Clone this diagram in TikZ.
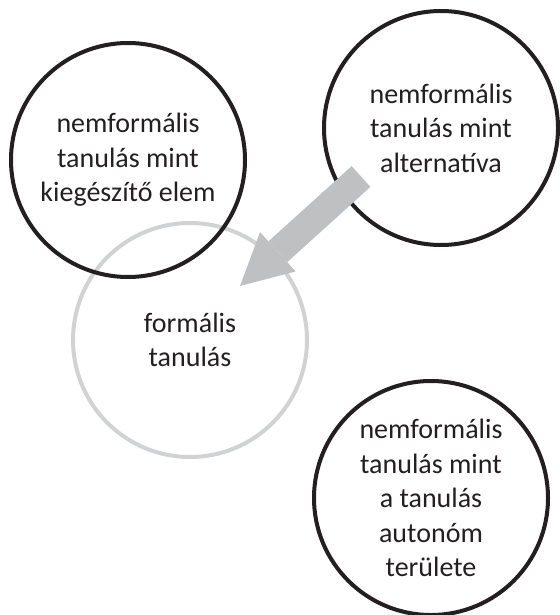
\documentclass[tikz,border=0pt]{standalone}
\usepackage{fontspec}
\setmainfont{Carlito}
\usetikzlibrary{arrows.meta}
\definecolor{inkblack}{RGB}{35,31,32}
\definecolor{circlegray}{RGB}{209,210,212}
\definecolor{arrowgray}{RGB}{191,192,194}
\begin{document}
\begin{tikzpicture}[x=1pt, y=-1pt]
	\tikzset{
		learn node/.style={circle, draw, line width=4pt, minimum size=234pt, inner sep=0pt, align=center, text=inkblack, font=\fontsize{28}{34.5}\selectfont},
		main node/.style={learn node, draw=inkblack},
		formal node/.style={learn node, draw=circlegray},
		block arrow/.style={-{Triangle[length=51pt, width=53pt, line width=0pt]}, line width=28pt, arrowgray}
	}
	\useasboundingbox (0,0) rectangle (559,615);
	% Formal learning
	\node (formal) at (190,340) [formal node] {formális\\tanulás};
	
	% Non-formal learning
	\node (complement) at (128,160) [main node] {nemformális\\tanulás mint\\kiegészítő elem};
	\node (alternative) at (441,128) [main node] {nemformális\\tanulás mint\\alternatíva};
	\node (autonomous) at (431,498) [main node] {nemformális\\tanulás mint\\a tanulás\\autonóm\\területe};
	
	% Alternative replaces formal learning
	\coordinate (arrow start) at (361,176.5);
	\coordinate (arrow tip) at (240,286);
	\draw[block arrow] (arrow start) -- (arrow tip);
\end{tikzpicture}
\end{document}
